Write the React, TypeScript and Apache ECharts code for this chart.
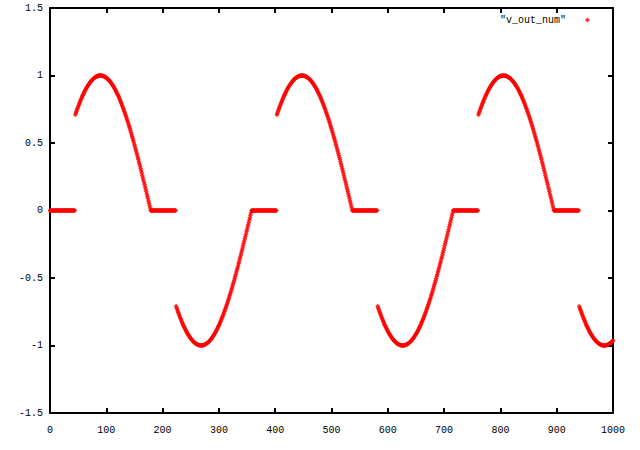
import React, { useEffect, useRef } from "react";
import * as echarts from "echarts";

// Axis ticks (labels)
const xTicks = [0, 100, 200, 300, 400, 500, 600, 700, 800, 900, 1000];
const yTicks = [-1.5, -1, -0.5, 0, 0.5, 1, 1.5];

const seriesName = '"v_out_num"';

// Each half cycle (179 samples long): first samples read at zero, then the conducting lobe
const halfCycleStart = [0, 179, 358, 537, 716, 895];
const halfCycleSign = [1, -1, 1, -1, 1, -1];
const offSamples = 45; // sample offsets 0..44 of each half cycle read at 0

// Lobe magnitudes for sample offsets 45..178 within a half cycle (step 1)
const lobe = [
  0.71, 0.722, 0.734, 0.746, 0.758, 0.769, 0.78, 0.791, 0.802, 0.812,
  0.822, 0.832, 0.842, 0.851, 0.86, 0.869, 0.878, 0.886, 0.894, 0.902,
  0.909, 0.916, 0.923, 0.93, 0.936, 0.942, 0.948, 0.953, 0.958, 0.963,
  0.968, 0.972, 0.976, 0.98, 0.983, 0.986, 0.989, 0.991, 0.994, 0.995,
  0.997, 0.998, 0.999, 1.0, 1.0,
  1.0, 1.0, 0.999, 0.998, 0.997, 0.995, 0.994, 0.991, 0.989, 0.986,
  0.983, 0.98, 0.976, 0.972, 0.968, 0.963, 0.958, 0.953, 0.948, 0.942,
  0.936, 0.93, 0.923, 0.916, 0.909, 0.902, 0.894, 0.886, 0.878, 0.869,
  0.86, 0.851, 0.842, 0.832, 0.822, 0.812, 0.802, 0.791, 0.78, 0.769,
  0.758, 0.746, 0.734, 0.722, 0.71,
  0.698, 0.685, 0.672, 0.659, 0.646, 0.632, 0.619, 0.605, 0.591, 0.576,
  0.562, 0.547, 0.533, 0.518, 0.503, 0.487, 0.472, 0.456, 0.441, 0.425,
  0.409, 0.393, 0.377, 0.36, 0.344, 0.327, 0.311, 0.294, 0.277, 0.26,
  0.243, 0.226, 0.209, 0.192, 0.175, 0.157, 0.14, 0.123, 0.105, 0.088,
  0.07, 0.053, 0.035, 0.018,
];

function buildPoints(): [number, number][] {
  const xMax = xTicks[xTicks.length - 1];
  const pts: [number, number][] = [];
  halfCycleStart.forEach((s, i) => {
    for (let k = 0; k < offSamples; k++) {
      const x = s + k;
      if (x <= xMax) pts.push([x, 0]);
    }
    lobe.forEach((v, k) => {
      const x = s + offSamples + k;
      if (x <= xMax) pts.push([x, halfCycleSign[i] * v]);
    });
  });
  return pts;
}

const FONT = "Liberation Mono";

export default function App() {
  const ref = useRef<HTMLDivElement>(null);
  useEffect(() => {
    if (!ref.current) return;
    const chart = echarts.init(ref.current, null, { renderer: "svg" });
    const xMin = xTicks[0];
    const xMax = xTicks[xTicks.length - 1];
    const xInt = xTicks[1] - xTicks[0];
    const yMin = yTicks[0];
    const yMax = yTicks[yTicks.length - 1];
    const yInt = yTicks[1] - yTicks[0];
    const lineStyle = { color: "#000", width: 2 };
    const tickStyle = { show: true, inside: true, length: 5, lineStyle: { color: "#000", width: 2 } };
    const labelStyle = { color: "#000", fontFamily: FONT, fontSize: 10 };
    chart.setOption({
      animation: false,
      backgroundColor: "#fff",
      grid: { left: 50, right: 27, top: 8, bottom: 37, containLabel: false },
      legend: {
        right: 50,
        top: 15,
        padding: 0,
        align: "right",
        itemWidth: 5,
        itemHeight: 5,
        icon: "diamond",
        textStyle: { color: "#000", fontFamily: FONT, fontSize: 10, padding: [0, 14, 0, 0] },
        data: [seriesName],
      },
      xAxis: [
        {
          type: "value",
          position: "bottom",
          min: xMin,
          max: xMax,
          interval: xInt,
          axisLine: { show: true, onZero: false, lineStyle },
          axisTick: tickStyle,
          splitLine: { show: false },
          axisLabel: { ...labelStyle, margin: 12, formatter: (v: number) => String(v) },
        },
        {
          type: "value",
          position: "top",
          min: xMin,
          max: xMax,
          interval: xInt,
          axisLine: { show: true, onZero: false, lineStyle },
          axisTick: tickStyle,
          splitLine: { show: false },
          axisLabel: { show: false },
        },
      ],
      yAxis: [
        {
          type: "value",
          position: "left",
          min: yMin,
          max: yMax,
          interval: yInt,
          axisLine: { show: true, onZero: false, lineStyle },
          axisTick: tickStyle,
          splitLine: { show: false },
          axisLabel: { ...labelStyle, margin: 7, formatter: (v: number) => String(v) },
        },
        {
          type: "value",
          position: "right",
          min: yMin,
          max: yMax,
          interval: yInt,
          axisLine: { show: true, onZero: false, lineStyle },
          axisTick: tickStyle,
          splitLine: { show: false },
          axisLabel: { show: false },
        },
      ],
      series: [
        {
          name: seriesName,
          type: "scatter",
          xAxisIndex: 0,
          yAxisIndex: 0,
          symbol: "diamond",
          symbolSize: 5,
          large: false,
          progressive: 0,
          itemStyle: { color: "#ff0000" },
          data: buildPoints(),
        },
      ],
    });
    return () => chart.dispose();
  }, []);
  return (
    <div
      ref={ref}
      style={{ position: "fixed", left: 0, top: 0, width: 640, height: 450, background: "#fff" }}
    />
  );
}
